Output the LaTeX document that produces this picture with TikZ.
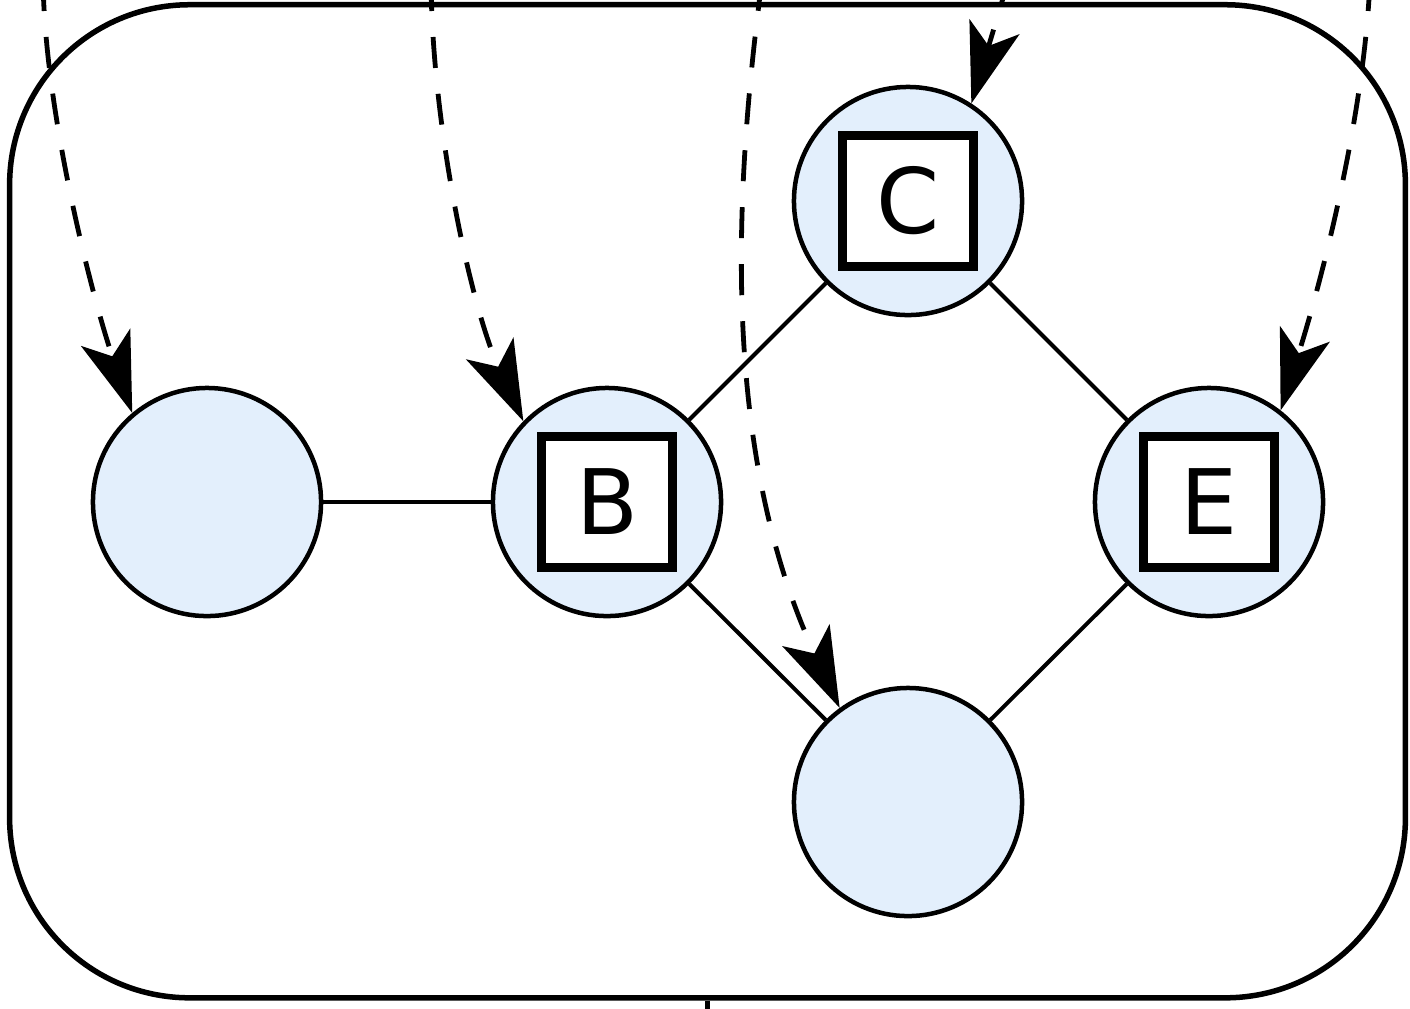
\documentclass[tikz,border=0pt]{standalone}
\usepackage{fontspec}
\setmainfont{DejaVu Sans}
\usetikzlibrary{arrows.meta}
\definecolor{nodefill}{RGB}{227,239,252}
\begin{document}
\begin{tikzpicture}[x=0.01cm,y=-0.01cm,
  vertex/.style={circle,draw=black,fill=nodefill,line width=0.045cm,minimum size=2.28cm,inner sep=0pt},
  labelbox/.style={rectangle,draw=black,fill=white,line width=0.09cm,minimum size=1.31cm,inner sep=0pt,font=\fontsize{25.7}{30}\selectfont},
  edge/.style={line width=0.04cm},
  hint/.style={line width=0.048cm,dash pattern=on 0.31cm off 0.26cm,-{Stealth[length=0.8cm,width=0.52cm,inset=0.2cm]}},
  framebox/.style={rectangle,draw=black,line width=0.055cm,rounded corners=1.8cm,minimum width=13.95cm,minimum height=9.925cm,inner sep=0pt}
]
\useasboundingbox (0,0) rectangle (1410,1008);
\clip (0,0) rectangle (1410,1008);
\node[framebox] (frame) at (707.5,501.25) {};
\coordinate (below) at (707.5,1030);
\draw[line width=0.055cm] (frame.south) -- (below);

\node[vertex] (A) at (207,502) {};
\node[vertex] (B) at (607,502) {};
\node[vertex] (C) at (908,201) {};
\node[vertex] (D) at (908,802) {};
\node[vertex] (E) at (1209,502) {};

\node[labelbox] (Bl) at (B) {B};
\node[labelbox] (Cl) at (C) {C};
\node[labelbox] (El) at (E) {E};

\draw[edge] (A) -- (B);
\draw[edge] (B) -- (C);
\draw[edge] (C) -- (E);
\draw[edge] (B) -- (D);
\draw[edge] (E) -- (D);

\coordinate (s1) at (43,-20);
\coordinate (s2) at (431,-20);
\coordinate (s3) at (762,-20);
\coordinate (s4) at (1010,-25);
\coordinate (s5) at (1370,-20);

\draw[hint] (s1) .. controls (45,120) and (96,310) .. (A.130);
\draw[hint] (s2) .. controls (432,130) and (472,310) .. (B.136);
\draw[hint] (s3) .. controls (733,200) and (722,454) .. (D.126);
\draw[hint] (s4) -- (C.57);
\draw[hint] (s5) .. controls (1364,120) and (1320,286) .. (E.52);
\end{tikzpicture}
\end{document}
